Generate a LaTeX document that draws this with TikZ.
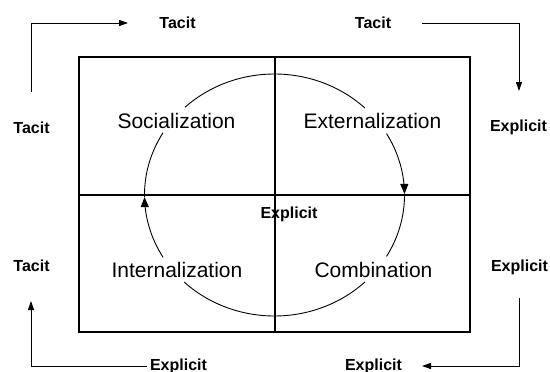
\documentclass[tikz,border=0pt]{standalone}
\usepackage{fontspec}
\setmainfont{Liberation Sans}
\usetikzlibrary{arrows.meta}
\tikzset{
  lbl/.style={font=\fontsize{16}{19}\selectfont\bfseries, anchor=base, inner sep=0pt},
  mode/.style={font=\fontsize{21}{25}\selectfont, anchor=base, inner sep=0pt},
  flow/.style={line width=0.9pt, -{Triangle[length=9pt,width=6pt]}},
  cyc/.style={line width=0.9pt},
  cyctip/.style={line width=0.9pt, -{Triangle[length=10pt,width=8pt]}},
}
\begin{document}
\begin{tikzpicture}[x=1pt,y=-1pt]
\useasboundingbox (0,0) rectangle (550,372);
% matrix frame
\draw[line width=2pt] (79,57) rectangle (470,332);
\draw[line width=1.2pt] (275,57) -- (275,332);
\draw[line width=1.2pt] (79,195) -- (470,195);
% mode labels
\node[mode] (soc) at (176.5,128) {Socialization};
\node[mode] (ext) at (372.5,128) {Externalization};
\node[mode] (int) at (177,277) {Internalization};
\node[mode] (com) at (373.5,277) {Combination};
\node[lbl] (cex) at (289,218) {Explicit};
% cycle
\draw[cyc] plot[domain=133.5:46, samples=80, smooth] ({274.5+130*cos(\x)},{195-121*sin(\x)});
\draw[cyctip] plot[domain=30.5:0.5, samples=40, smooth] ({274.5+130*cos(\x)},{195-121*sin(\x)});
\draw[cyc] plot[domain=0.5:-30.5, samples=40, smooth] ({274.5+130*cos(\x)},{195-121*sin(\x)});
\draw[cyc] plot[domain=-46:-134, samples=80, smooth] ({274.5+130*cos(\x)},{195-121*sin(\x)});
\draw[cyctip] plot[domain=211:181, samples=40, smooth] ({274.5+130*cos(\x)},{195-121*sin(\x)});
\draw[cyc] plot[domain=181:149, samples=40, smooth] ({274.5+130*cos(\x)},{195-121*sin(\x)});
% outer labels
\node[lbl] (t1) at (177.5,28) {Tacit};
\node[lbl] (t2) at (373,28) {Tacit};
\node[lbl] (t3) at (31.5,133) {Tacit};
\node[lbl] (t4) at (31.5,271) {Tacit};
\node[lbl] (e1) at (518.5,131.5) {Explicit};
\node[lbl] (e2) at (519.5,271) {Explicit};
\node[lbl] (e3) at (373.5,370) {Explicit};
\node[lbl] (e4) at (178.5,370) {Explicit};
% outer arrows
\coordinate (a1s) at (31,92);
\coordinate (a1e) at (128,23);
\draw[flow] (a1s) |- (a1e);
\coordinate (a2s) at (422,23);
\coordinate (a2e) at (519,91);
\draw[flow] (a2s) -| (a2e);
\coordinate (a3s) at (519,298);
\coordinate (a3e) at (422,366);
\draw[flow] (a3s) |- (a3e);
\coordinate (a4s) at (147,366);
\coordinate (a4e) at (31,301);
\draw[flow] (a4s) -| (a4e);
\end{tikzpicture}
\end{document}
